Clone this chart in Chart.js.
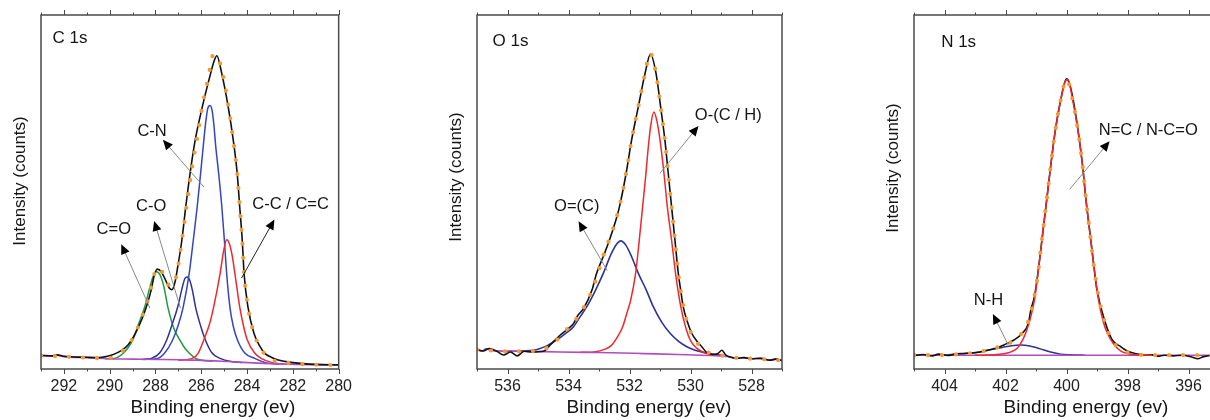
<!DOCTYPE html>
<html>
<head>
<meta charset="utf-8">
<script src="https://cdn.jsdelivr.net/npm/chart.js@4.4.1/dist/chart.umd.min.js"></script>
<style>
  html, body { margin: 0; padding: 0; background: #fff; overflow: hidden; }
  #wrap { position: relative; width: 1210px; height: 420px; overflow: hidden; }
  canvas { position: absolute; top: 0; }
</style>
</head>
<body>
<div id="wrap">
  <canvas id="c1s" width="360" height="420" style="left:0px"></canvas>
  <canvas id="o1s" width="380" height="420" style="left:420px"></canvas>
  <canvas id="n1s" width="380" height="420" style="left:850px"></canvas>
</div>
<script>
// ---- C 1s : [binding energy (eV), intensity (a.u.)]
const c1sTicks = [292, 290, 288, 286, 284, 282, 280];
const c1sBackground = [[293, 3.8], [292.6, 3.6], [292.3, 3.9], [292, 3.5], [291, 3.2], [290, 2.9], [289, 2.8],
  [288, 2.7], [287, 2.6], [286.2, 2.5], [284.8, 2.1], [283.3, 1.6], [281.9, 1.3], [280, 1.1]];
const c1sMeasured = [[293, 3.9], [292.5, 3.7], [292.3, 4.0], [292, 3.6], [291, 3.3], [290.5, 3.2], [290.1, 3.6],
  [289.8, 4.2], [289.5, 5.2], [289.2, 6.8], [288.9, 9.8], [288.6, 14.0], [288.4, 17.5], [288.2, 22.0],
  [288.05, 26.5], [287.92, 28.2], [287.75, 27.5], [287.55, 25.0], [287.4, 22.9], [287.28, 22.4], [287.15, 24.5],
  [287.03, 28.8], [286.85, 36.3], [286.68, 45.7], [286.49, 55.2], [286.27, 64.5], [285.96, 73.9], [285.6, 83.3],
  [285.45, 86.8], [285.32, 88.5], [285.1, 83.3], [284.82, 73.9], [284.6, 64.5], [284.43, 55.2], [284.32, 45.7],
  [284.21, 36.3], [284.13, 26.9], [283.96, 17.5], [283.7, 10.1], [283.45, 6.5], [283.24, 4.5], [282.9, 3.2],
  [282.67, 2.6], [282, 1.8], [281, 1.3], [280, 1.2]];
const c1sFit = [[293, 3.8], [292, 3.5], [291, 3.2], [290.2, 3.0], [289.8, 3.5], [289.5, 4.8], [289.2, 6.6],
  [288.9, 9.8], [288.6, 14.5], [288.4, 18.3], [288.2, 22.8], [288.05, 26.8], [287.95, 28.6], [287.75, 27.8],
  [287.55, 25.4], [287.4, 23.6], [287.25, 23.5], [287.1, 26.0], [286.95, 31.5], [286.8, 38.5], [286.6, 48.0],
  [286.4, 57.0], [286.15, 66.5], [285.95, 74.5], [285.75, 80.5], [285.6, 85.5], [285.48, 88.8], [285.3, 88.2],
  [285.1, 84.5], [284.82, 74.5], [284.6, 64.5], [284.43, 55.2], [284.32, 45.7], [284.21, 36.3], [284.13, 26.9],
  [283.96, 17.5], [283.7, 10.1], [283.45, 6.3], [283.24, 4.3], [282.9, 2.6], [282, 1.6], [281, 1.2], [280, 1.1]];
const c1sCdO = [[290.2, 2.9], [289.8, 3.0], [289.6, 3.5], [289.4, 4.5], [289.2, 6.0], [288.99, 8.2], [288.75, 12.5],
  [288.47, 17.5], [288.25, 23.0], [288.1, 26.2], [287.95, 27.5], [287.8, 26.6], [287.64, 23.5], [287.46, 17.5],
  [287.2, 11.5], [286.94, 8.2], [286.73, 6.0], [286.53, 4.5], [286.25, 3.0], [285.9, 2.4], [285.5, 2.2]];
const c1sCO = [[288.6, 2.7], [288.18, 3.0], [287.82, 4.5], [287.51, 8.2], [287.25, 13.0], [287.03, 17.5],
  [286.85, 22.5], [286.72, 25.5], [286.62, 26.0], [286.5, 25.0], [286.38, 22.0], [286.25, 17.5], [286.02, 12.0],
  [285.82, 8.2], [285.53, 4.5], [285.18, 3.0], [284.7, 2.1], [284.2, 1.8]];
const c1sCN = [[288.5, 2.7], [287.9, 3.0], [287.6, 4.5], [287.25, 8.2], [287.0, 12.5], [286.79, 17.5], [286.53, 26.9],
  [286.35, 36.3], [286.18, 45.7], [286.03, 55.2], [285.89, 64.5], [285.8, 70.0], [285.72, 73.5], [285.62, 74.4],
  [285.52, 72.8], [285.45, 69.0], [285.37, 63.0], [285.24, 55.2], [285.1, 45.7], [284.99, 36.3], [284.89, 26.9],
  [284.75, 17.5], [284.6, 12.0], [284.42, 8.2], [284.1, 4.5], [283.67, 3.0], [283.2, 1.8], [282.6, 1.4]];
const c1sCC = [[287.0, 2.5], [286.39, 3.0], [286.13, 4.5], [285.89, 8.2], [285.65, 12.5], [285.46, 17.5],
  [285.18, 26.9], [285.02, 33.5], [284.89, 36.5], [284.78, 35.5], [284.65, 32.0], [284.53, 26.9], [284.32, 17.5],
  [284.15, 12.0], [283.99, 8.2], [283.67, 4.5], [283.39, 3.0], [282.9, 1.8], [282.4, 1.4]];

// ---- O 1s
const o1sTicks = [536, 534, 532, 530, 528];
const o1sBackground = [[537, 5.5], [536.85, 5.0], [536.7, 5.7], [536.5, 5.2], [535.5, 5.0], [534.8, 4.9],
  [533.5, 4.7], [532.6, 4.6], [531.5, 4.35], [530.4, 4.1], [529.35, 3.8], [528.7, 3.4], [528.5, 3.0],
  [528.25, 3.2], [528.0, 2.9], [527.7, 3.0], [527.4, 2.5], [527.2, 2.8], [527, 2.4]];
const o1sMeasured = [[537, 5.6], [536.8, 5.1], [536.6, 5.8], [536.35, 5.0], [536.13, 3.95], [535.9, 4.8],
  [535.69, 3.7], [535.45, 5.0], [535.2, 4.8], [534.8, 5.1], [534.6, 6.8], [534.27, 9.6], [534.0, 11.5],
  [533.83, 12.9], [533.72, 14.8], [533.5, 17.2], [533.23, 22.3], [533.08, 27.0], [532.85, 32.0], [532.66, 36.4],
  [532.48, 41.1], [532.33, 45.8], [532.11, 55.3], [531.93, 64.7], [531.71, 74.1], [531.49, 83.5], [531.31, 89.0],
  [531.13, 83.5], [530.98, 74.1], [530.84, 64.7], [530.73, 55.3], [530.62, 45.8], [530.51, 36.4], [530.4, 27.0],
  [530.3, 21.0], [530.24, 17.6], [530.1, 13.3], [529.96, 10.1], [529.8, 8.0], [529.63, 6.3], [529.46, 4.6],
  [529.25, 4.1], [529.1, 4.4], [528.97, 5.3], [528.85, 4.0], [528.7, 3.4], [528.5, 3.0], [528.25, 3.2],
  [528.0, 2.9], [527.7, 3.0], [527.4, 2.5], [527.2, 2.8], [527, 2.4]];
const o1sFit = [[537, 5.5], [536.5, 5.2], [536, 5.0], [535.5, 5.0], [535.0, 5.2], [534.7, 6.0], [534.4, 8.0],
  [534.1, 10.8], [533.8, 13.5], [533.5, 17.3], [533.2, 22.8], [533.0, 28.0], [532.8, 33.5], [532.6, 38.0],
  [532.45, 42.0], [532.3, 47.0], [532.11, 55.3], [531.93, 64.7], [531.71, 74.1], [531.49, 83.5], [531.33, 89.2],
  [531.13, 83.5], [530.98, 74.1], [530.84, 64.7], [530.73, 55.3], [530.62, 45.8], [530.51, 36.4], [530.4, 27.0],
  [530.25, 18.5], [530.1, 13.0], [529.96, 9.8], [529.8, 7.6], [529.6, 5.8], [529.4, 4.6], [529.1, 4.0],
  [528.7, 3.4], [528.4, 3.1], [528.0, 2.9], [527.5, 2.7], [527, 2.4]];
const o1sOdC = [[536, 5.0], [535.15, 5.3], [534.7, 6.6], [534.39, 8.2], [534.1, 10.0], [533.84, 11.9], [533.6, 15.0],
  [533.4, 17.6], [533.1, 22.5], [532.86, 27.0], [532.6, 32.5], [532.42, 35.3], [532.29, 36.2], [532.12, 35.0],
  [531.92, 31.5], [531.71, 27.0], [531.45, 22.3], [531.22, 17.6], [530.95, 13.3], [530.67, 10.1], [530.4, 7.9],
  [530.12, 6.3], [529.85, 5.3], [529.58, 4.7], [529.3, 4.2], [529.0, 3.9]];
const o1sOCH = [[533.6, 4.7], [533.1, 4.9], [532.8, 5.6], [532.6, 6.6], [532.4, 9.0], [532.22, 12.0], [532.08, 16.0],
  [531.96, 19.5], [531.8, 27.0], [531.68, 36.4], [531.57, 45.8], [531.46, 55.3], [531.38, 63.0], [531.3, 69.0],
  [531.2, 72.6], [531.1, 70.0], [531.0, 64.7], [530.87, 55.3], [530.76, 45.8], [530.62, 36.4], [530.49, 27.0],
  [530.32, 17.6], [530.15, 11.5], [530.0, 8.0], [529.8, 5.9], [529.6, 4.8], [529.4, 4.2], [529.0, 3.9]];

// ---- N 1s
const n1sTicks = [404, 402, 400, 398, 396];
const n1sBackground = [[405, 3.9], [404, 3.9], [402, 3.9], [400, 3.9], [398, 3.9], [396, 3.9], [395, 3.9]];
const n1sMeasured = [[405, 3.8], [404.7, 4.1], [404.4, 3.7], [404.2, 4.2], [403.9, 3.8], [403.6, 4.3], [403.36, 4.4],
  [403.0, 4.6], [402.6, 5.3], [402.3, 5.9], [402.05, 6.8], [401.72, 8.2], [401.45, 10.1], [401.25, 12.9],
  [401.17, 16.7], [401.05, 20.5], [400.91, 28.9], [400.78, 38.3], [400.65, 47.7], [400.52, 57.2], [400.38, 66.6],
  [400.19, 76.0], [400.0, 82.0], [399.9, 80.5], [399.78, 76.0], [399.61, 66.6], [399.47, 57.2], [399.36, 47.7],
  [399.23, 38.3], [399.1, 28.9], [399.0, 22.3], [398.72, 12.9], [398.5, 8.2], [398.22, 6.3], [398.05, 5.3],
  [397.9, 4.7], [397.7, 4.3], [397.46, 3.9], [397.2, 4.0], [397.0, 3.6], [396.8, 3.9], [396.5, 3.7], [396.2, 3.9],
  [395.9, 3.4], [395.7, 2.9], [395.5, 3.5], [395.2, 3.8], [395, 3.6]];
const n1sFit = [[405, 3.9], [404, 3.9], [403.4, 4.3], [403.0, 4.6], [402.6, 5.3], [402.3, 6.0], [402.0, 6.9],
  [401.72, 8.0], [401.45, 10.3], [401.25, 13.5], [401.1, 18.5], [400.95, 26.0], [400.8, 37.0], [400.65, 47.7],
  [400.52, 57.2], [400.38, 66.6], [400.19, 76.0], [400.0, 81.8], [399.8, 76.0], [399.61, 66.6], [399.47, 57.2],
  [399.36, 47.7], [399.23, 38.3], [399.1, 28.9], [398.95, 20.5], [398.72, 12.5], [398.5, 8.0], [398.25, 5.8],
  [398.0, 4.7], [397.7, 4.1], [397.3, 3.9], [396, 3.9], [395, 3.9]];
const n1sNH = [[404.2, 3.9], [403.9, 4.0], [403.4, 4.3], [402.87, 4.8], [402.5, 5.4], [402.1, 6.1], [401.8, 6.6],
  [401.5, 6.8], [401.2, 6.5], [400.9, 5.8], [400.52, 4.8], [400.2, 4.2], [399.86, 4.0], [399.4, 3.9]];
const n1sNC = [[403.0, 3.9], [402.4, 4.0], [402.05, 4.3], [401.8, 4.9], [401.6, 6.0], [401.42, 8.5], [401.3, 11.0],
  [401.2, 13.8], [401.05, 19.5], [400.91, 28.9], [400.78, 38.3], [400.65, 47.7], [400.52, 57.2], [400.38, 66.6],
  [400.19, 76.0], [400.05, 81.0], [399.95, 81.8], [399.8, 76.0], [399.61, 66.6], [399.47, 57.2], [399.36, 47.7],
  [399.23, 38.3], [399.1, 28.9], [398.95, 19.5], [398.8, 13.5], [398.66, 10.1], [398.45, 7.0], [398.2, 5.0],
  [398.0, 4.4], [397.7, 4.0], [397.2, 3.9]];

const FONT = "'Liberation Sans', Arial, sans-serif";
const COLORS = {
  fit: "#f39a35", measured: "#111111", background: "#b24cc0",
  green: "#1f9a3c", navy: "#2c3395", blue: "#3344c4", red: "#ec2a2e"
};

const pts = arr => arr.map(([x, y]) => ({ x, y }));

function line(data, color, width, extra) {
    return Object.assign({
        data: pts(data),
        borderColor: color,
        borderWidth: width,
        pointRadius: 0,
        showLine: true,
        fill: false,
        cubicInterpolationMode: "monotone"
    }, extra || {});
}

function fitLine(data) {
    return line(data, COLORS.fit, 4.2, { borderDash: [0, 14], borderCapStyle: "round" });
}

// frame, tick marks, titles and arrow labels
const decor = {
    id: "decor",
    afterDraw(chart, _args, opts) {
        const { ctx, chartArea: a, scales: { x, y } } = chart;
        ctx.save();
        ctx.strokeStyle = "#4a4a4a";
        ctx.lineWidth = 1;
        for (let v = Math.ceil(Math.min(x.min, x.max)); v <= Math.max(x.min, x.max); v++) {
            const px = Math.round(x.getPixelForValue(v)) + 0.5;
            const len = opts.major.includes(v) ? 5 : 2.5;
            ctx.beginPath();
            ctx.moveTo(px, a.top); ctx.lineTo(px, a.top - len);
            ctx.moveTo(px, a.bottom); ctx.lineTo(px, a.bottom + len);
            ctx.stroke();
        }
        ctx.lineWidth = 1.5;
        ctx.strokeRect(a.left, a.top, a.right - a.left, a.bottom - a.top);

        ctx.fillStyle = "#151515";
        ctx.textBaseline = "middle";
        ctx.textAlign = "center";
        ctx.font = `19px ${FONT}`;
        ctx.fillText("Binding energy (ev)", a.left + 172, 408);

        ctx.save();
        ctx.font = `17px ${FONT}`;
        ctx.translate(a.left - 21, a.top + opts.yTitle);
        ctx.rotate(-Math.PI / 2);
        ctx.fillText("Intensity (counts)", 0, 0);
        ctx.restore();

        ctx.textAlign = "left";
        ctx.font = `17px ${FONT}`;
        ctx.fillText(opts.name[0], x.getPixelForValue(opts.name[1]), y.getPixelForValue(opts.name[2]));

        ctx.textAlign = "center";
        ctx.font = `16.5px ${FONT}`;
        for (const n of opts.notes) {
            const [text, lx, ly, tx, ty, hx, hy, dark] = n;
            ctx.fillStyle = "#151515";
            ctx.fillText(text, x.getPixelForValue(lx), y.getPixelForValue(ly));
            const x0 = x.getPixelForValue(tx), y0 = y.getPixelForValue(ty);
            const x1 = x.getPixelForValue(hx), y1 = y.getPixelForValue(hy);
            const ang = Math.atan2(y1 - y0, x1 - x0);
            ctx.strokeStyle = dark ? "#222" : "#888";
            ctx.lineWidth = 1;
            ctx.beginPath();
            ctx.moveTo(x0, y0);
            ctx.lineTo(x1 - 6 * Math.cos(ang), y1 - 6 * Math.sin(ang));
            ctx.stroke();
            ctx.fillStyle = "#000";
            ctx.beginPath();
            ctx.moveTo(x1 + 3 * Math.cos(ang), y1 + 3 * Math.sin(ang));
            ctx.lineTo(x1 - 7 * Math.cos(ang) - 4.5 * Math.sin(ang), y1 - 7 * Math.sin(ang) + 4.5 * Math.cos(ang));
            ctx.lineTo(x1 - 7 * Math.cos(ang) + 4.5 * Math.sin(ang), y1 - 7 * Math.sin(ang) - 4.5 * Math.cos(ang));
            ctx.closePath();
            ctx.fill();
        }
        ctx.restore();
    }
};

function makeChart(id, lo, hi, ticks, datasets, pad, decorOpts) {
    return new Chart(document.getElementById(id), {
        type: "scatter",
        data: { datasets: datasets },
        plugins: [decor],
        options: {
            responsive: false,
            animation: false,
            events: [],
            layout: { padding: { left: pad[0], right: pad[1], top: 15, bottom: 0 } },
            scales: {
                x: {
                    type: "linear",
                    reverse: true,
                    min: lo,
                    max: hi,
                    afterBuildTicks: scale => { scale.ticks = ticks.map(v => ({ value: v })); },
                    afterFit: scale => { scale.height = 51; },
                    grid: { display: false, drawTicks: false },
                    border: { display: false },
                    ticks: {
                        padding: 8,
                        color: "#222",
                        font: { family: FONT, size: 16 },
                        maxRotation: 0,
                        autoSkip: false
                    }
                },
                y: { display: false, min: 0, max: 100 }
            },
            plugins: {
                legend: { display: false },
                tooltip: { enabled: false },
                decor: decorOpts
            }
        }
    });
}

makeChart("c1s", 280, 293, c1sTicks, [
    fitLine(c1sFit),
    line(c1sMeasured, COLORS.measured, 1.6),
    line(c1sBackground, COLORS.background, 1.6),
    line(c1sCC, COLORS.red, 1.5),
    line(c1sCN, COLORS.blue, 1.5),
    line(c1sCO, COLORS.navy, 1.5),
    line(c1sCdO, COLORS.green, 1.5)
], [41, 16], {
    major: c1sTicks,
    yTitle: 166,
    name: ["C 1s", 292.5, 93.3],
    notes: [
        ["C=O", 289.82, 39.3, 288.24, 17.2, 289.44, 34.5],
        ["C-O", 288.19, 46.0, 286.91, 17.2, 288.02, 41.0],
        ["C-N", 288.15, 67.2, 285.88, 51.4, 287.59, 64.1],
        ["C-C / C=C", 282.1, 46.6, 284.24, 25.7, 282.87, 41.5, true]
    ]
});

makeChart("o1s", 527, 537, o1sTicks, [
    fitLine(o1sFit),
    line(o1sMeasured, COLORS.measured, 1.6),
    line(o1sBackground, COLORS.background, 1.6),
    line(o1sOCH, COLORS.red, 1.5),
    line(o1sOdC, COLORS.navy, 1.6)
], [57, 18], {
    major: o1sTicks,
    yTitle: 162,
    name: ["O 1s", 536.49, 92.5],
    notes: [
        ["O=(C)", 533.73, 46.0, 532.73, 27.8, 533.62, 41.0],
        ["O-(C / H)", 528.76, 71.5, 531.0, 55.3, 529.8, 68.0]
    ]
});

makeChart("n1s", 395, 405, n1sTicks, [
    fitLine(n1sFit),
    line(n1sNC, COLORS.red, 1.5),
    line(n1sMeasured, COLORS.measured, 1.6),
    line(n1sBackground, COLORS.background, 1.6),
    line(n1sNH, COLORS.navy, 1.5)
], [64, 11], {
    major: n1sTicks,
    yTitle: 153,
    name: ["N 1s", 404.11, 92.2],
    notes: [
        ["N=C / N-C=O", 397.32, 67.5, 399.89, 50.8, 398.65, 63.7],
        ["N-H", 402.56, 19.5, 401.91, 6.8, 402.37, 14.8]
    ]
});
</script>
</body>
</html>
